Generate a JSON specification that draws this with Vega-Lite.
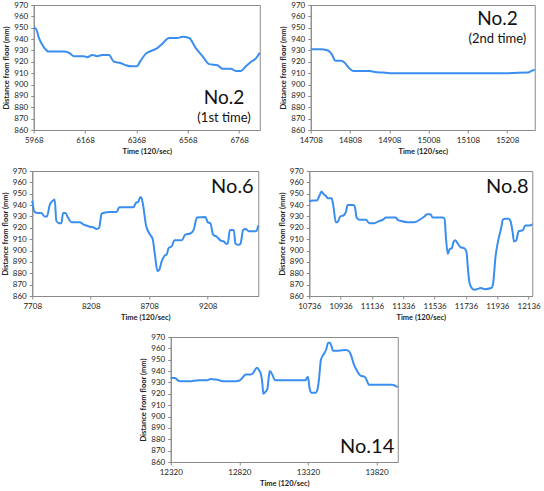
{
  "$schema": "https://vega.github.io/schema/vega-lite/v6.json",
  "background": "white",
  "padding": {"left": 0, "top": 0, "right": 4, "bottom": 0},
  "config": {
    "font": "Lato",
    "view": {"stroke": "#8a8a8a", "strokeWidth": 1},
    "axis": {
      "grid": false,
      "labelFont": "Lato",
      "labelFontSize": 8,
      "labelColor": "#222",
      "labelOverlap": false,
      "labelFlush": false,
      "labelPadding": 3,
      "titleFont": "Lato",
      "titleFontSize": 7.5,
      "titleFontWeight": "bold",
      "titleColor": "#222",
      "titlePadding": 3,
      "domainColor": "#8a8a8a",
      "tickColor": "#8a8a8a",
      "tickSize": 3
    },
    "line": {"color": "#3a8ef0", "strokeWidth": 2, "interpolate": "monotone"},
    "text": {"font": "Lato", "color": "#111"}
  },
  "datasets": {
    "one": [{}],
    "p1": [
      {"t":5968,"d":950},{"t":5977,"d":949},{"t":5988,"d":941},{"t":6007,"d":933},{"t":6027,"d":929},{"t":6085,"d":929},{"t":6105,"d":928},{"t":6124,"d":925},{"t":6163,"d":925},{"t":6176,"d":924},{"t":6196,"d":926},{"t":6215,"d":925},{"t":6235,"d":926},{"t":6261,"d":926},{"t":6280,"d":920},{"t":6306,"d":919},{"t":6326,"d":917},{"t":6352,"d":916},{"t":6369,"d":916},{"t":6384,"d":921},{"t":6404,"d":927},{"t":6430,"d":930},{"t":6449,"d":932},{"t":6469,"d":936},{"t":6495,"d":941},{"t":6527,"d":941},{"t":6547,"d":942},{"t":6573,"d":941},{"t":6599,"d":932},{"t":6625,"d":925},{"t":6651,"d":918},{"t":6683,"d":917},{"t":6703,"d":914},{"t":6735,"d":914},{"t":6755,"d":912},{"t":6775,"d":912},{"t":6794,"d":916},{"t":6814,"d":920},{"t":6833,"d":923},{"t":6848,"d":928}
    ],
    "p2": [
      {"t":14708,"d":931},{"t":14731,"d":931},{"t":14752,"d":930},{"t":14761,"d":927},{"t":14771,"d":921},{"t":14786,"d":921},{"t":14795,"d":919},{"t":14807,"d":914},{"t":14816,"d":912},{"t":14833,"d":912},{"t":14858,"d":912},{"t":14871,"d":911},{"t":14892,"d":910.5},{"t":14909,"d":910},{"t":15028,"d":910},{"t":15198,"d":910},{"t":15261,"d":910.5},{"t":15270,"d":912},{"t":15278,"d":913}
    ],
    "p3": [
      {"t":7708,"d":944},{"t":7728,"d":934},{"t":7757,"d":933},{"t":7785,"d":933},{"t":7814,"d":930},{"t":7834,"d":930},{"t":7857,"d":940},{"t":7885,"d":944},{"t":7900,"d":945},{"t":7914,"d":926},{"t":7943,"d":924},{"t":7957,"d":924},{"t":7971,"d":933},{"t":7991,"d":933},{"t":8014,"d":929},{"t":8043,"d":925},{"t":8114,"d":925},{"t":8143,"d":923},{"t":8172,"d":922},{"t":8200,"d":921},{"t":8229,"d":920.5},{"t":8258,"d":919},{"t":8280,"d":920},{"t":8300,"d":932},{"t":8315,"d":933},{"t":8372,"d":934},{"t":8429,"d":934},{"t":8452,"d":938},{"t":8572,"d":938},{"t":8595,"d":942},{"t":8615,"d":943},{"t":8630,"d":947},{"t":8638,"d":947},{"t":8652,"d":942},{"t":8681,"d":922},{"t":8715,"d":914},{"t":8738,"d":910},{"t":8758,"d":895},{"t":8778,"d":882},{"t":8793,"d":883},{"t":8816,"d":891},{"t":8836,"d":895},{"t":8859,"d":897},{"t":8873,"d":902},{"t":8902,"d":904},{"t":8922,"d":909},{"t":8987,"d":909},{"t":9016,"d":914},{"t":9059,"d":915},{"t":9087,"d":918},{"t":9116,"d":929},{"t":9188,"d":929.5},{"t":9208,"d":925},{"t":9231,"d":924},{"t":9254,"d":914},{"t":9288,"d":912},{"t":9316,"d":909},{"t":9345,"d":908},{"t":9368,"d":906},{"t":9379,"d":906},{"t":9397,"d":918},{"t":9431,"d":918},{"t":9445,"d":906},{"t":9474,"d":905},{"t":9488,"d":906},{"t":9511,"d":918},{"t":9531,"d":919},{"t":9560,"d":917},{"t":9623,"d":917},{"t":9640,"d":922}
    ],
    "p4": [
      {"t":10736,"d":943},{"t":10757,"d":944},{"t":10785,"d":944},{"t":10800,"d":948},{"t":10815,"d":952},{"t":10825,"d":950},{"t":10843,"d":948},{"t":10853,"d":946},{"t":10879,"d":946},{"t":10889,"d":940},{"t":10906,"d":925},{"t":10917,"d":925},{"t":10934,"d":930},{"t":10955,"d":931},{"t":10970,"d":934},{"t":10981,"d":940},{"t":11019,"d":940},{"t":11028,"d":938},{"t":11038,"d":929},{"t":11056,"d":927},{"t":11098,"d":927},{"t":11119,"d":924},{"t":11151,"d":924},{"t":11183,"d":926},{"t":11205,"d":927},{"t":11226,"d":929},{"t":11290,"d":929},{"t":11300,"d":927},{"t":11322,"d":926},{"t":11364,"d":925},{"t":11407,"d":925},{"t":11450,"d":928},{"t":11471,"d":930},{"t":11488,"d":932},{"t":11509,"d":932},{"t":11524,"d":929},{"t":11588,"d":929},{"t":11599,"d":928},{"t":11609,"d":910},{"t":11620,"d":897},{"t":11631,"d":901},{"t":11645,"d":902},{"t":11658,"d":908},{"t":11667,"d":909},{"t":11684,"d":906},{"t":11701,"d":903},{"t":11726,"d":902},{"t":11739,"d":899},{"t":11748,"d":885},{"t":11758,"d":872},{"t":11773,"d":867},{"t":11790,"d":865.5},{"t":11833,"d":867},{"t":11854,"d":866},{"t":11897,"d":867},{"t":11908,"d":870},{"t":11925,"d":895},{"t":11939,"d":907},{"t":11961,"d":920},{"t":11971,"d":927},{"t":11986,"d":928},{"t":12008,"d":928},{"t":12020,"d":926},{"t":12035,"d":915},{"t":12042,"d":908},{"t":12057,"d":909},{"t":12072,"d":917},{"t":12099,"d":918},{"t":12114,"d":922},{"t":12142,"d":922},{"t":12159,"d":923}
    ],
    "p5": [
      {"t":12320,"d":934},{"t":12352,"d":934},{"t":12369,"d":932},{"t":12393,"d":931},{"t":12453,"d":931},{"t":12526,"d":932},{"t":12587,"d":932},{"t":12611,"d":933},{"t":12648,"d":932.5},{"t":12672,"d":932},{"t":12708,"d":931},{"t":12769,"d":931},{"t":12818,"d":931.5},{"t":12842,"d":934},{"t":12866,"d":937},{"t":12902,"d":937},{"t":12919,"d":938},{"t":12934,"d":941},{"t":12949,"d":943},{"t":12963,"d":941},{"t":12978,"d":937},{"t":12987,"d":930},{"t":12995,"d":920},{"t":13012,"d":922},{"t":13024,"d":924},{"t":13036,"d":936},{"t":13043,"d":940},{"t":13060,"d":937},{"t":13080,"d":932},{"t":13109,"d":932},{"t":13303,"d":932},{"t":13313,"d":934},{"t":13320,"d":935},{"t":13332,"d":925},{"t":13344,"d":921},{"t":13376,"d":921},{"t":13390,"d":924},{"t":13400,"d":932},{"t":13415,"d":950},{"t":13436,"d":955},{"t":13453,"d":959},{"t":13468,"d":965},{"t":13480,"d":965},{"t":13492,"d":962},{"t":13502,"d":958},{"t":13546,"d":958},{"t":13594,"d":958.5},{"t":13614,"d":958},{"t":13631,"d":955},{"t":13655,"d":946},{"t":13679,"d":940},{"t":13703,"d":936},{"t":13735,"d":935},{"t":13752,"d":931},{"t":13764,"d":928},{"t":13934,"d":928},{"t":13958,"d":927},{"t":13975,"d":926}
    ]
  },
  "vconcat": [
    {
      "spacing": 14,
      "hconcat": [
        {
          "width": 226, "height": 125,
          "layer": [
            {
              "data": {"name": "p1"},
              "mark": "line",
              "encoding": {
                "x": {"field": "t", "type": "quantitative", "title": "Time (120/sec)", "scale": {"domain": [5968, 6848], "nice": false, "zero": false}, "axis": {"values": [5968, 6168, 6368, 6568, 6768], "format": "d", "labelOverlap": false}},
                "y": {"field": "d", "type": "quantitative", "title": "Distance from floor (mm)", "scale": {"domain": [860, 970], "nice": false, "zero": false}, "axis": {"values": [860,870,880,890,900,910,920,930,940,950,960,970], "labelOverlap": false}}
              }
            },
            {"data": {"name": "one"}, "mark": {"type": "text", "fontSize": 19, "align": "center", "baseline": "middle"}, "encoding": {
              "x": {"datum": 6709, "type": "quantitative", "axis": {"values": [5968, 6168, 6368, 6568, 6768], "format": "d", "labelOverlap": false}},
              "y": {"datum": 888, "type": "quantitative", "axis": {"values": [860,870,880,890,900,910,920,930,940,950,960,970], "labelOverlap": false}},
              "text": {"value": "No.2"}}},
            {"data": {"name": "one"}, "mark": {"type": "text", "fontSize": 13, "align": "center", "baseline": "middle"}, "encoding": {
              "x": {"datum": 6709, "type": "quantitative", "axis": {"values": [5968, 6168, 6368, 6568, 6768], "format": "d", "labelOverlap": false}},
              "y": {"datum": 871, "type": "quantitative", "axis": {"values": [860,870,880,890,900,910,920,930,940,950,960,970], "labelOverlap": false}},
              "text": {"value": "(1st time)"}}}
          ]
        },
        {
          "width": 224, "height": 125,
          "layer": [
            {
              "data": {"name": "p2"},
              "mark": "line",
              "encoding": {
                "x": {"field": "t", "type": "quantitative", "title": "Time (120/sec)", "scale": {"domain": [14708, 15278], "nice": false, "zero": false}, "axis": {"values": [14708, 14808, 14908, 15008, 15108, 15208], "format": "d", "labelOverlap": false}},
                "y": {"field": "d", "type": "quantitative", "title": "Distance from floor (mm)", "scale": {"domain": [860, 970], "nice": false, "zero": false}, "axis": {"values": [860,870,880,890,900,910,920,930,940,950,960,970], "labelOverlap": false}}
              }
            },
            {"data": {"name": "one"}, "mark": {"type": "text", "fontSize": 19, "align": "center", "baseline": "middle"}, "encoding": {
              "x": {"datum": 15183, "type": "quantitative", "axis": {"values": [14708, 14808, 14908, 15008, 15108, 15208], "format": "d", "labelOverlap": false}},
              "y": {"datum": 957.5, "type": "quantitative", "axis": {"values": [860,870,880,890,900,910,920,930,940,950,960,970], "labelOverlap": false}},
              "text": {"value": "No.2"}}},
            {"data": {"name": "one"}, "mark": {"type": "text", "fontSize": 13, "align": "center", "baseline": "middle"}, "encoding": {
              "x": {"datum": 15183, "type": "quantitative", "axis": {"values": [14708, 14808, 14908, 15008, 15108, 15208], "format": "d", "labelOverlap": false}},
              "y": {"datum": 940, "type": "quantitative", "axis": {"values": [860,870,880,890,900,910,920,930,940,950,960,970], "labelOverlap": false}},
              "text": {"value": "(2nd time)"}}}
          ]
        }
      ]
    },
    {
      "spacing": 14,
      "hconcat": [
        {
          "width": 226, "height": 125,
          "layer": [
            {
              "data": {"name": "p3"},
              "mark": "line",
              "encoding": {
                "x": {"field": "t", "type": "quantitative", "title": "Time (120/sec)", "scale": {"domain": [7708, 9640], "nice": false, "zero": false}, "axis": {"values": [7708, 8208, 8708, 9208], "format": "d", "labelOverlap": false}},
                "y": {"field": "d", "type": "quantitative", "title": "Distance from floor (mm)", "scale": {"domain": [860, 970], "nice": false, "zero": false}, "axis": {"values": [860,870,880,890,900,910,920,930,940,950,960,970], "labelOverlap": false}}
              }
            },
            {"data": {"name": "one"}, "mark": {"type": "text", "fontSize": 20, "align": "center", "baseline": "middle"}, "encoding": {
              "x": {"datum": 9419, "type": "quantitative", "axis": {"values": [7708, 8208, 8708, 9208], "format": "d", "labelOverlap": false}},
              "y": {"datum": 956, "type": "quantitative", "axis": {"values": [860,870,880,890,900,910,920,930,940,950,960,970], "labelOverlap": false}},
              "text": {"value": "No.6"}}}
          ]
        },
        {
          "width": 223, "height": 125,
          "layer": [
            {
              "data": {"name": "p4"},
              "mark": "line",
              "encoding": {
                "x": {"field": "t", "type": "quantitative", "title": "Time (120/sec)", "scale": {"domain": [10736, 12159], "nice": false, "zero": false}, "axis": {"values": [10736, 10936, 11136, 11336, 11536, 11736, 11936, 12136], "format": "d", "labelOverlap": false}},
                "y": {"field": "d", "type": "quantitative", "title": "Distance from floor (mm)", "scale": {"domain": [860, 970], "nice": false, "zero": false}, "axis": {"values": [860,870,880,890,900,910,920,930,940,950,960,970], "labelOverlap": false}}
              }
            },
            {"data": {"name": "one"}, "mark": {"type": "text", "fontSize": 20, "align": "center", "baseline": "middle"}, "encoding": {
              "x": {"datum": 12000, "type": "quantitative", "axis": {"values": [10736, 10936, 11136, 11336, 11536, 11736, 11936, 12136], "format": "d", "labelOverlap": false}},
              "y": {"datum": 956, "type": "quantitative", "axis": {"values": [860,870,880,890,900,910,920,930,940,950,960,970], "labelOverlap": false}},
              "text": {"value": "No.8"}}}
          ]
        }
      ]
    },
    {
      "width": 227, "height": 125,
      "layer": [
        {
          "data": {"name": "p5"},
          "mark": "line",
          "encoding": {
            "x": {"field": "t", "type": "quantitative", "title": "Time (120/sec)", "scale": {"domain": [12320, 13975], "nice": false, "zero": false}, "axis": {"values": [12320, 12820, 13320, 13820], "format": "d", "labelOverlap": false}},
            "y": {"field": "d", "type": "quantitative", "title": "Distance from floor (mm)", "scale": {"domain": [860, 970], "nice": false, "zero": false}, "axis": {"values": [860,870,880,890,900,910,920,930,940,950,960,970], "labelOverlap": false}}
          }
        },
        {"data": {"name": "one"}, "mark": {"type": "text", "fontSize": 20, "align": "center", "baseline": "middle"}, "encoding": {
          "x": {"datum": 13752, "type": "quantitative", "axis": {"values": [12320, 12820, 13320, 13820], "format": "d", "labelOverlap": false}},
          "y": {"datum": 873, "type": "quantitative", "axis": {"values": [860,870,880,890,900,910,920,930,940,950,960,970], "labelOverlap": false}},
          "text": {"value": "No.14"}}}
      ]
    }
  ],
  "spacing": 11,
  "center": true
}
